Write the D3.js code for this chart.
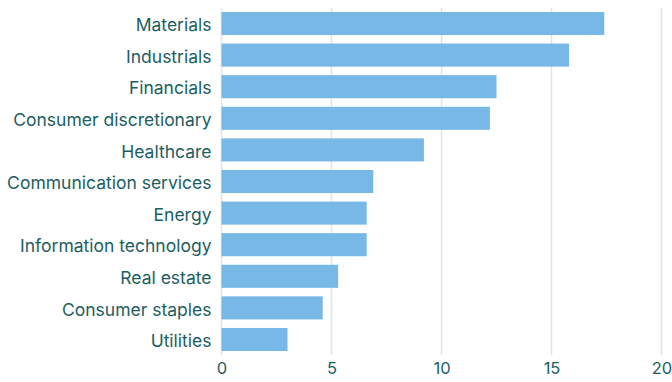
<!DOCTYPE html>
<html>
<head>
<meta charset="utf-8">
<script src="https://cdn.jsdelivr.net/npm/d3@7"></script>
<style>
  body { margin: 0; background: #fff; }
  svg { display: block; }
</style>
</head>
<body>
<svg id="chart" width="672" height="382"></svg>
<script>
var sectors = ["Materials", "Industrials", "Financials", "Consumer discretionary", "Healthcare",
    "Communication services", "Energy", "Information technology", "Real estate",
    "Consumer staples", "Utilities"];
var values = [17.4, 15.8, 12.5, 12.2, 9.2, 6.9, 6.6, 6.6, 5.3, 4.6, 3.0];
var xTicks = [0, 5, 10, 15, 20];

var svg = d3.select("#chart");
var margin = { top: 7.7, right: 10.5, bottom: 26.7, left: 221.5 };
var width = 672 - margin.left - margin.right;
var height = 382 - margin.top - margin.bottom;
var textColor = "#1b5e63";
var font = "Inter, 'Noto Sans', sans-serif";

var data = sectors.map(function(s, i) { return { name: s, value: values[i] }; });

var x = d3.scaleLinear().domain([0, 20]).range([0, width]);
var y = d3.scaleBand().domain(sectors).range([0, height]).paddingInner(0.27).paddingOuter(0.135);

var g = svg.append("g").attr("transform", "translate(" + margin.left + "," + margin.top + ")");

// grid
g.selectAll("line.grid")
    .data(xTicks)
    .enter().append("line")
    .attr("class", "grid")
    .attr("x1", function(d) { return x(d); })
    .attr("x2", function(d) { return x(d); })
    .attr("y1", 0)
    .attr("y2", height)
    .attr("stroke", "#e3e3e3")
    .attr("stroke-width", 1.5);

g.selectAll("rect.bar")
    .data(data)
    .enter().append("rect")
    .attr("class", "bar")
    .attr("x", 0)
    .attr("y", function(d) { return y(d.name); })
    .attr("width", function(d) { return x(d.value); })
    .attr("height", y.bandwidth())
    .attr("fill", "#77b8e6");

var xAxis = g.append("g")
    .attr("transform", "translate(0," + height + ")")
    .call(d3.axisBottom(x).tickValues(xTicks).tickSize(0).tickPadding(7))
    .attr("font-family", font)
    .attr("font-size", 16.5);
xAxis.select(".domain").remove();
xAxis.selectAll("text").attr("fill", textColor);

var yAxis = g.append("g")
    .call(d3.axisLeft(y).tickSize(0).tickPadding(10))
    .attr("font-family", font)
    .attr("font-size", 17.5);
yAxis.select(".domain").remove();
yAxis.selectAll("text").attr("fill", textColor).attr("dy", "0.44em");
</script>
</body>
</html>
